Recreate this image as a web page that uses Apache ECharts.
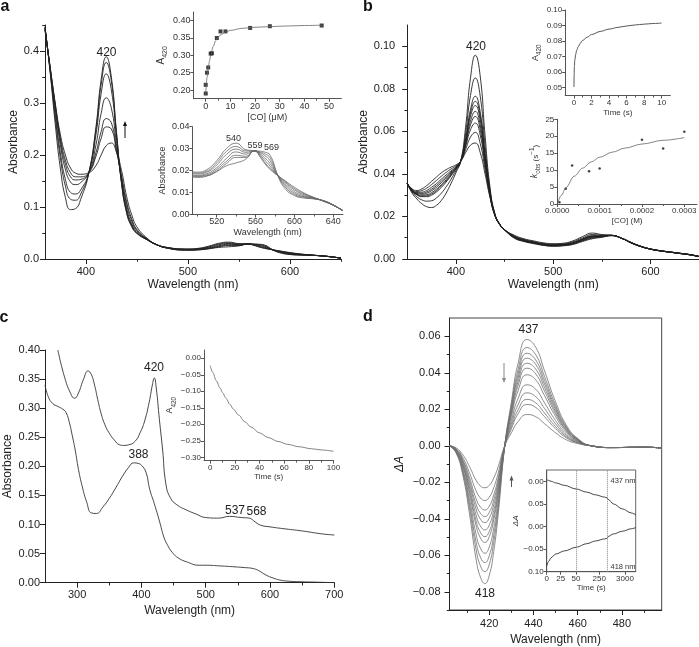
<!DOCTYPE html>
<html>
<head>
<meta charset="utf-8">
<script src="https://cdn.jsdelivr.net/npm/echarts@6/dist/echarts.min.js"></script>
<style>
  html, body { margin: 0; padding: 0; background: #fff; }
  #chart { width: 699px; height: 647px; }
</style>
</head>
<body>
<div id="chart"></div>
<script>
// ---------- panel a: CO titration spectra (7 scans), one row per wavelength ----------
const aWl = [360, 365, 370, 375, 380, 385, 390, 395, 403, 410, 415, 420, 425, 430, 435, 440, 445, 450, 460, 470,
  480, 495, 500, 510, 520, 530, 540, 550, 559, 565, 569, 575, 583, 590, 600, 610, 620, 630, 640, 650];
const aRows = [
  [0.447, 0.446, 0.445, 0.444, 0.443, 0.442, 0.440],
  [0.360, 0.362, 0.364, 0.366, 0.368, 0.369, 0.370],
  [0.260, 0.272, 0.280, 0.290, 0.295, 0.298, 0.300],
  [0.175, 0.195, 0.205, 0.220, 0.228, 0.233, 0.240],
  [0.118, 0.140, 0.153, 0.172, 0.182, 0.190, 0.200],
  [0.095, 0.115, 0.128, 0.148, 0.158, 0.166, 0.175],
  [0.097, 0.113, 0.125, 0.143, 0.152, 0.158, 0.165],
  [0.115, 0.125, 0.133, 0.147, 0.153, 0.158, 0.163],
  [0.166, 0.166, 0.166, 0.166, 0.166, 0.166, 0.166],
  [0.255, 0.250, 0.240, 0.220, 0.205, 0.198, 0.180],
  [0.345, 0.335, 0.318, 0.280, 0.245, 0.232, 0.200],
  [0.389, 0.378, 0.356, 0.310, 0.270, 0.254, 0.218],
  [0.350, 0.342, 0.325, 0.290, 0.262, 0.250, 0.223],
  [0.245, 0.242, 0.235, 0.222, 0.212, 0.208, 0.205],
  [0.145, 0.146, 0.148, 0.152, 0.156, 0.160, 0.170],
  [0.088, 0.090, 0.093, 0.098, 0.105, 0.110, 0.120],
  [0.062, 0.063, 0.065, 0.068, 0.073, 0.077, 0.085],
  [0.049, 0.050, 0.051, 0.053, 0.055, 0.057, 0.062],
  [0.037, 0.037, 0.037, 0.038, 0.038, 0.039, 0.040],
  [0.027, 0.027, 0.027, 0.027, 0.027, 0.027, 0.027],
  [0.022, 0.022, 0.022, 0.021, 0.021, 0.021, 0.021],
  [0.0195, 0.0190, 0.0187, 0.0180, 0.0177, 0.0174, 0.0170],
  [0.0193, 0.0189, 0.0185, 0.0179, 0.0176, 0.0173, 0.0169],
  [0.0205, 0.0198, 0.0193, 0.0186, 0.0181, 0.0177, 0.0175],
  [0.0245, 0.0235, 0.0225, 0.0213, 0.0205, 0.0198, 0.0195],
  [0.0300, 0.0287, 0.0273, 0.0255, 0.0242, 0.0232, 0.0222],
  [0.0325, 0.0310, 0.0298, 0.0285, 0.0270, 0.0260, 0.0235],
  [0.0295, 0.0290, 0.0283, 0.0275, 0.0265, 0.0260, 0.0252],
  [0.0290, 0.0290, 0.0290, 0.0290, 0.0290, 0.0290, 0.0290],
  [0.0260, 0.0265, 0.0270, 0.0275, 0.0280, 0.0284, 0.0288],
  [0.0235, 0.0240, 0.0250, 0.0260, 0.0270, 0.0278, 0.0285],
  [0.0205, 0.0210, 0.0220, 0.0232, 0.0245, 0.0258, 0.0270],
  [0.0177, 0.0177, 0.0177, 0.0177, 0.0177, 0.0177, 0.0177],
  [0.0155, 0.0152, 0.0148, 0.0142, 0.0135, 0.0128, 0.0120],
  [0.0124, 0.0118, 0.0112, 0.0104, 0.0097, 0.0091, 0.0086],
  [0.0098, 0.0094, 0.0090, 0.0085, 0.0081, 0.0078, 0.0075],
  [0.0078, 0.0077, 0.0076, 0.0074, 0.0073, 0.0072, 0.0071],
  [0.0060, 0.0061, 0.0061, 0.0062, 0.0062, 0.0063, 0.0063],
  [0.0042, 0.0042, 0.0042, 0.0043, 0.0043, 0.0043, 0.0044],
  [0.0017, 0.0017, 0.0017, 0.0017, 0.0017, 0.0017, 0.0017]
];
// inset: A420 against [CO]
const aCoPts = [[0, 0.190], [0, 0.215], [0.5, 0.250], [1, 0.265], [2, 0.305], [2.5, 0.306],
  [4.5, 0.350], [6, 0.369], [8, 0.369], [18, 0.379], [26, 0.384], [47, 0.386]];
const aFitCo = [0, 0.5, 1, 1.5, 2, 3, 4, 5, 6, 8, 10, 15, 20, 30, 40, 47];
const aFitA = [0.190, 0.235, 0.262, 0.283, 0.300, 0.325, 0.342, 0.352, 0.359, 0.367, 0.372, 0.378, 0.381, 0.384, 0.386, 0.387];

// ---------- panel b: 10 spectra, one row per wavelength ----------
const bWl = [350, 355, 360, 365, 370, 375, 380, 385, 390, 395, 400, 405, 410, 415, 420, 425, 430, 435, 440, 445, 450,
  460, 470, 480, 490, 500, 510, 520, 530, 540, 550, 560, 570, 580, 590, 600, 610, 620, 630, 640, 650];
const bRows = [
  [.0355, .0355, .0355, .0355, .0355, .0355, .0355, .0355, .0355, .0355],
  [.0310, .0315, .0319, .0320, .0321, .0323, .0324, .0325, .0328, .0330],
  [.0282, .0292, .0301, .0303, .0305, .0308, .0310, .0313, .0317, .0322],
  [.0260, .0278, .0293, .0296, .0300, .0305, .0309, .0314, .0322, .0330],
  [.0246, .0272, .0293, .0297, .0302, .0309, .0315, .0322, .0333, .0345],
  [.0242, .0274, .0300, .0306, .0312, .0321, .0328, .0337, .0350, .0365],
  [.0252, .0287, .0315, .0321, .0328, .0337, .0345, .0354, .0369, .0385],
  [.0275, .0309, .0336, .0343, .0349, .0358, .0366, .0375, .0389, .0405],
  [.0310, .0339, .0362, .0367, .0373, .0380, .0387, .0395, .0407, .0420],
  [.0355, .0375, .0391, .0395, .0399, .0404, .0409, .0414, .0423, .0432],
  [.0405, .0415, .0422, .0424, .0426, .0429, .0431, .0433, .0438, .0442],
  [.0460, .0460, .0460, .0460, .0460, .0460, .0460, .0460, .0460, .0460],
  [.0620, .0589, .0564, .0558, .0552, .0543, .0536, .0528, .0514, .0500],
  [.0850, .0768, .0702, .0686, .0670, .0648, .0630, .0607, .0573, .0535],
  [.0958, .0851, .0765, .0741, .0721, .0694, .0670, .0639, .0595, .0545],
  [.0860, .0766, .0691, .0673, .0655, .0630, .0608, .0583, .0543, .0500],
  [.0580, .0533, .0495, .0486, .0477, .0465, .0454, .0441, .0422, .0400],
  [.0340, .0327, .0317, .0314, .0312, .0308, .0305, .0302, .0296, .0290],
  [.0215, .0212, .0210, .0210, .0209, .0209, .0208, .0207, .0206, .0205],
  [.0165, .0164, .0164, .0163, .0163, .0163, .0163, .0163, .0162, .0162],
  [.0138, .0138, .0138, .0138, .0138, .0137, .0137, .0137, .0137, .0137],
  [.0112, .0108, .0105, .0105, .0104, .0103, .0102, .0101, .0100, .0098],
  [.0095, .0092, .0089, .0088, .0088, .0087, .0086, .0085, .0084, .0082],
  [.0085, .0082, .0079, .0078, .0078, .0077, .0076, .0075, .0074, .0072],
  [.0076, .0073, .0070, .0070, .0069, .0068, .0068, .0067, .0065, .0064],
  [.0072, .0069, .0066, .0066, .0065, .0064, .0064, .0063, .0061, .0060],
  [.0074, .0071, .0068, .0068, .0067, .0066, .0066, .0065, .0063, .0062],
  [.0085, .0081, .0077, .0076, .0075, .0074, .0073, .0072, .0070, .0068],
  [.0105, .0099, .0094, .0093, .0092, .0090, .0089, .0087, .0085, .0082],
  [.0122, .0115, .0109, .0108, .0107, .0105, .0103, .0101, .0098, .0095],
  [.0115, .0112, .0109, .0108, .0108, .0107, .0106, .0105, .0104, .0102],
  [.0112, .0111, .0111, .0111, .0111, .0111, .0111, .0110, .0110, .0110],
  [.0098, .0098, .0098, .0098, .0098, .0098, .0098, .0098, .0098, .0098],
  [.0075, .0076, .0076, .0077, .0077, .0077, .0077, .0077, .0078, .0078],
  [.0058, .0059, .0059, .0059, .0059, .0059, .0059, .0060, .0060, .0060],
  [.0046, .0046, .0046, .0046, .0047, .0047, .0047, .0047, .0047, .0047],
  [.0038, .0038, .0038, .0038, .0038, .0039, .0039, .0039, .0039, .0039],
  [.0032, .0032, .0032, .0032, .0032, .0033, .0033, .0033, .0033, .0033],
  [.0026, .0026, .0026, .0026, .0026, .0027, .0027, .0027, .0027, .0027],
  [.0020, .0020, .0020, .0020, .0020, .0021, .0021, .0021, .0021, .0021],
  [.0011, .0011, .0011, .0011, .0011, .0012, .0012, .0012, .0012, .0012]
];
// inset: A420 vs time
const bTime = [0, 0.02, 0.05, 0.1, 0.2, 0.3, 0.5, 0.7, 1, 1.5, 2, 3, 4, 5, 6, 7, 8, 9, 10];
const bA420 = [0.0505, 0.058, 0.064, 0.068, 0.0715, 0.074, 0.0765, 0.0785, 0.0805, 0.0825, 0.0842,
  0.0862, 0.0877, 0.0888, 0.0897, 0.0904, 0.0909, 0.0913, 0.0916];
// inset: kobs vs [CO]
const bKobsPts = [[0.000005, 0.5], [0.00002, 4.5], [0.000035, 11.4], [0.000075, 9.7], [0.0001, 10.5],
  [0.0002, 19.0], [0.00025, 16.4], [0.0003, 21.3]];
const bFitCo = [0, 0.00001, 0.00002, 0.00004, 0.00006, 0.00008, 0.0001, 0.00013, 0.00016, 0.0002, 0.00025, 0.0003];
const bFitK = [0, 2.6, 4.8, 8.2, 10.6, 12.4, 13.8, 15.3, 16.5, 17.7, 18.8, 19.6];

// ---------- panel c ----------
const cUpWl = [270, 280, 290, 296, 302, 310, 317, 322, 327, 332, 337, 343, 350, 358, 366, 372, 380, 390, 398, 405,
  412, 417, 420, 423, 428, 433, 438, 445, 455, 470, 485, 500, 520, 537, 555, 568, 575, 585, 600, 620, 650, 680, 700];
const cUpAbs = [0.400, 0.355, 0.325, 0.317, 0.326, 0.350, 0.364, 0.358, 0.340, 0.315, 0.292, 0.272, 0.257, 0.245,
  0.237, 0.236, 0.237, 0.243, 0.258, 0.278, 0.310, 0.340, 0.352, 0.335, 0.280, 0.228, 0.170, 0.146, 0.134, 0.125,
  0.118, 0.112, 0.111, 0.114, 0.112, 0.111, 0.106, 0.099, 0.096, 0.093, 0.089, 0.084, 0.082];
const cLowWl = [250, 255, 262, 270, 278, 283, 288, 292, 297, 302, 308, 315, 322, 330, 340, 350, 360, 370, 380, 388,
  395, 400, 407, 413, 420, 428, 435, 440, 448, 458, 470, 490, 500, 520, 542, 560, 573, 582, 594, 605, 615, 630, 646, 670, 700];
const cLowAbs = [0.340, 0.320, 0.308, 0.303, 0.298, 0.292, 0.275, 0.255, 0.228, 0.195, 0.165, 0.138, 0.120, 0.119,
  0.130, 0.145, 0.163, 0.182, 0.198, 0.206, 0.205, 0.202, 0.190, 0.160, 0.136, 0.106, 0.078, 0.066, 0.052, 0.042,
  0.036, 0.030, 0.030, 0.029, 0.0275, 0.026, 0.0245, 0.021, 0.013, 0.008, 0.0046, 0.0025, 0.0017, 0.001, 0];
// inset: A420 vs time
const cTime = [0, 2, 5, 8, 10, 13, 16, 19, 23, 28, 33, 40, 47, 55, 63, 72, 82, 91, 100];
const cA420 = [-0.022, -0.042, -0.068, -0.090, -0.104, -0.122, -0.140, -0.155, -0.172, -0.192, -0.208, -0.226,
  -0.240, -0.252, -0.261, -0.268, -0.274, -0.278, -0.282];

// ---------- panel d: difference spectra (12 scans) ----------
const dWl = [402, 405, 408, 411, 414, 416, 418, 420, 422, 424, 427, 430, 433, 437, 441, 445, 450, 455, 460, 466, 475, 490, 498];
const dCurves = [
  [0, -0.004, -0.016, -0.037, -0.062, -0.072, -0.0755, -0.071, -0.058, -0.038, 0, 0.024, 0.045, 0.0582, 0.054, 0.041, 0.024, 0.011, 0.004, 0, -0.001, -0.0008, -0.0012],
  [0, -0.0037, -0.0146, -0.0338, -0.0567, -0.0658, -0.069, -0.0649, -0.053, -0.0347, 0, 0.0222, 0.0416, 0.0538, 0.0499, 0.0379, 0.0222, 0.0102, 0.0037, 0, -0.001, -0.0008, -0.0012],
  [0, -0.0034, -0.0136, -0.0314, -0.0526, -0.0611, -0.064, -0.0602, -0.0492, -0.0322, 0, 0.0209, 0.0392, 0.0507, 0.047, 0.0357, 0.0209, 0.0096, 0.0035, 0, -0.001, -0.0008, -0.0012],
  [0, -0.0031, -0.0125, -0.0289, -0.0484, -0.0562, -0.0589, -0.0554, -0.0452, -0.0296, 0, 0.0198, 0.0371, 0.048, 0.0446, 0.0338, 0.0198, 0.0091, 0.0033, 0, -0.001, -0.0008, -0.0012],
  [0, -0.0028, -0.0112, -0.026, -0.0435, -0.0505, -0.053, -0.0498, -0.0407, -0.0267, 0, 0.0186, 0.035, 0.0452, 0.042, 0.0319, 0.0186, 0.0085, 0.0031, 0, -0.001, -0.0008, -0.0012],
  [0, -0.0026, -0.0106, -0.0244, -0.0409, -0.0475, -0.0498, -0.0469, -0.0383, -0.0251, 0, 0.0175, 0.0329, 0.0425, 0.0394, 0.0299, 0.0175, 0.008, 0.0029, 0, -0.001, -0.0008, -0.0012],
  [0, -0.0024, -0.0098, -0.0226, -0.0379, -0.044, -0.0461, -0.0434, -0.0354, -0.0232, 0, 0.016, 0.0301, 0.0389, 0.0361, 0.0274, 0.016, 0.0073, 0.0027, 0, -0.001, -0.0008, -0.0012],
  [0, -0.0022, -0.0089, -0.0206, -0.0346, -0.0402, -0.0421, -0.0396, -0.0324, -0.0212, 0, 0.0138, 0.0258, 0.0334, 0.031, 0.0235, 0.0138, 0.0063, 0.0023, 0, -0.001, -0.0008, -0.0012],
  [0, -0.0021, -0.0082, -0.019, -0.0319, -0.037, -0.0388, -0.0365, -0.0298, -0.0195, 0, 0.012, 0.0224, 0.029, 0.0269, 0.0204, 0.012, 0.0055, 0.002, 0, -0.001, -0.0008, -0.0012],
  [0, -0.0019, -0.0075, -0.0172, -0.0289, -0.0336, -0.0352, -0.0331, -0.027, -0.0177, 0, 0.0105, 0.0196, 0.0254, 0.0235, 0.0179, 0.0105, 0.0048, 0.0017, 0, -0.001, -0.0008, -0.0012],
  [0, -0.0016, -0.0064, -0.0147, -0.0246, -0.0286, -0.030, -0.0282, -0.023, -0.0151, 0, 0.0093, 0.0175, 0.0226, 0.021, 0.0159, 0.0093, 0.0043, 0.0016, 0, -0.001, -0.0008, -0.0012],
  [0, -0.0012, -0.0049, -0.0113, -0.0189, -0.022, -0.023, -0.0217, -0.0177, -0.0116, 0, 0.0071, 0.0132, 0.0171, 0.0159, 0.0121, 0.0071, 0.0032, 0.0012, 0, -0.001, -0.0008, -0.0012]
];
// inset: broken time axis, positions in axis units (0..100) and stacked dA offsets (0..4.5)
const dInsetTickPos = [0, 15.7, 33, 59, 88];
const dInsetTickText = ['0', '25', '50', '250', '3000'];
const dInsetYText = ['0.10', '\u22120.05', '0.00', '0.05', '0.00'];
const dInsetBreaks = [33, 68.5];
const dInsetT = [0, 2, 5, 10, 20, 33, 45, 55, 65, 68, 69, 75, 85, 95, 100];
const dInset437 = [4.07, 4.04, 4.0, 3.93, 3.82, 3.66, 3.52, 3.4, 3.3, 3.26, 3.2, 3.0, 2.78, 2.6, 2.52];
const dInset418 = [0.25, 0.45, 0.62, 0.78, 0.92, 1.08, 1.24, 1.36, 1.45, 1.48, 1.56, 1.67, 1.79, 1.9, 1.95];

// ---------- helpers ----------
const FONT = '"Liberation Sans", Arial, Helvetica, sans-serif';
const INK = '#222';
const GREY = '#555';

const dec = n => v => (v < 0 ? '\u2212' : '') + Math.abs(v).toFixed(n);
const plain = v => String(v);

const xAxes = [];
const yAxes = [];

// adds the main axis (labels + major ticks) and an optional overlay with short minor ticks
function addAxis(list, kind, g, o) {
  const pos = kind === 'x' ? 'bottom' : 'left';
  const idx = list.length;
  list.push({
    type: 'value', gridIndex: g, position: pos, min: o.min, max: o.max,
    splitLine: { show: false },
    axisLine: { show: true, onZero: false, lineStyle: { color: o.line, width: 1 } },
    axisTick: { show: true, inside: false, length: o.tick, customValues: o.ticks, lineStyle: { color: o.line, width: 1 } },
    axisLabel: { show: true, customValues: o.ticks, formatter: o.fmt, fontSize: o.fs, color: o.text, fontFamily: FONT, margin: o.margin },
    name: o.name, nameLocation: 'middle', nameGap: o.gap, nameRotate: kind === 'y' ? 90 : 0,
    nameTextStyle: Object.assign({ fontSize: o.nfs, color: o.text, fontFamily: FONT }, o.nameStyle || {})
  });
  if (o.minor) {
    list.push({
      type: 'value', gridIndex: g, position: pos, min: o.min, max: o.max,
      splitLine: { show: false }, axisLabel: { show: false },
      axisLine: { show: false, onZero: false },
      axisTick: { show: true, inside: false, length: Math.max(2, o.tick * 0.55), customValues: o.minor, lineStyle: { color: o.line, width: 1 } }
    });
  }
  return idx;
}

const MAIN = { line: INK, text: INK, fs: 11, nfs: 12, tick: 5 };
const INS = { line: GREY, text: '#333', fs: 8, nfs: 8, tick: 3, margin: 3 };

const subRich = size => ({
  rich: {
    a: { fontSize: size, fontFamily: FONT, color: '#333', lineHeight: 12, verticalAlign: 'top' },
    s: { fontSize: size * 0.7, fontFamily: FONT, color: '#333', lineHeight: 6, verticalAlign: 'bottom' },
    i: { fontSize: size, fontFamily: FONT, fontStyle: 'italic', color: '#333', lineHeight: 12, verticalAlign: 'top' },
    p: { fontSize: size * 0.7, fontFamily: FONT, color: '#333', lineHeight: 6, verticalAlign: 'top' }
  }
});

// spectra: plain spline; kinetic traces with steep starts keep x-monotone smoothing
function line(xi, yi, data, color, width, monotone) {
  const s = {
    type: 'line', xAxisIndex: xi, yAxisIndex: yi, data: data, symbol: 'none',
    smooth: monotone ? 0.35 : 0.5, clip: true, silent: true,
    lineStyle: { color: color, width: width }
  };
  if (monotone) s.smoothMonotone = 'x';
  return s;
}
const zip = (xs, ys) => xs.map((x, i) => [x, ys[i]]);

function spectraFromRows(wl, rows, xi, yi, color, width) {
  const out = [];
  for (let k = 0; k < rows[0].length; k++) {
    out.push(line(xi, yi, wl.map((w, i) => [w, rows[i][k]]), color, width));
  }
  return out;
}

// ---------- grids ----------
const grids = [
  { left: 45, top: 25, width: 296, height: 234 },            // 0 a
  { left: 193.4, top: 12, width: 148, height: 86.7 },        // 1 a inset A420 vs CO
  { left: 192.4, top: 126.7, width: 150.6, height: 87.8 },   // 2 a inset Q bands
  { left: 407.2, top: 25, width: 292, height: 234 },         // 3 b
  { left: 565.2, top: 10, width: 105.2, height: 85.5 },      // 4 b inset time
  { left: 557.3, top: 119.3, width: 139.7, height: 84.7 },   // 5 b inset kobs
  { left: 45, top: 350, width: 289.3, height: 232.7 },       // 6 c
  { left: 204, top: 350, width: 129.5, height: 110.6 },      // 7 c inset
  { left: 449.5, top: 318, width: 212.2, height: 292, show: true, borderColor: '#444', borderWidth: 1 }, // 8 d
  { left: 546.7, top: 470, width: 89, height: 101.7, show: true, borderColor: '#666', borderWidth: 1 }  // 9 d inset
].map(g => Object.assign({ outerBoundsMode: 'none', containLabel: false }, g));

// ---------- axes ----------
const ax = {};
ax.ax = addAxis(xAxes, 'x', 0, Object.assign({}, MAIN, { min: 360, max: 650, ticks: [400, 500, 600], minor: [450, 550, 650], fmt: plain, margin: 7, name: 'Wavelength (nm)', gap: 20 }));
ax.ay = addAxis(yAxes, 'y', 0, Object.assign({}, MAIN, { min: 0, max: 0.45, ticks: [0, 0.1, 0.2, 0.3, 0.4], minor: [0.05, 0.15, 0.25, 0.35, 0.45], fmt: dec(1), margin: 6, name: 'Absorbance', gap: 24 }));

ax.a1x = addAxis(xAxes, 'x', 1, Object.assign({}, INS, { fs: 9, nfs: 9, min: -5, max: 55, ticks: [0, 10, 20, 30, 40, 50], minor: [5, 15, 25, 35, 45], fmt: plain, name: '[CO] (\u03bcM)', gap: 14 }));
ax.a1y = addAxis(yAxes, 'y', 1, Object.assign({}, INS, { fs: 9, nfs: 9, min: 0.175, max: 0.425, ticks: [0.2, 0.25, 0.3, 0.35, 0.4], fmt: dec(2), name: '{a|A}{s|420}', gap: 25, nameStyle: subRich(10) }));

ax.a2x = addAxis(xAxes, 'x', 2, Object.assign({}, INS, { fs: 9, nfs: 9, min: 495, max: 650, ticks: [520, 560, 600, 640], minor: [500, 540, 580, 620], fmt: plain, name: 'Wavelength (nm)', gap: 14 }));
ax.a2y = addAxis(yAxes, 'y', 2, Object.assign({}, INS, { fs: 9, nfs: 9, min: 0, max: 0.04, ticks: [0, 0.01, 0.02, 0.03, 0.04], fmt: dec(2), name: 'Absorbance', gap: 25 }));

ax.bx = addAxis(xAxes, 'x', 3, Object.assign({}, MAIN, { min: 350, max: 650, ticks: [400, 500, 600], minor: [450, 550], fmt: plain, margin: 7, name: 'Wavelength (nm)', gap: 20 }));
ax.by = addAxis(yAxes, 'y', 3, Object.assign({}, MAIN, { min: 0, max: 0.11, ticks: [0, 0.02, 0.04, 0.06, 0.08, 0.10], minor: [0.01, 0.03, 0.05, 0.07, 0.09], fmt: dec(2), margin: 12, name: 'Absorbance', gap: 33 }));

ax.b1x = addAxis(xAxes, 'x', 4, Object.assign({}, INS, { min: -1, max: 11, ticks: [0, 2, 4, 6, 8, 10], minor: [1, 3, 5, 7, 9], fmt: plain, name: 'Time (s)', gap: 13 }));
ax.b1y = addAxis(yAxes, 'y', 4, Object.assign({}, INS, { min: 0.045, max: 0.10, ticks: [0.05, 0.06, 0.07, 0.08, 0.09, 0.10], fmt: dec(2), name: '{a|A}{s|420}', gap: 22, nameStyle: subRich(9) }));

ax.b2x = addAxis(xAxes, 'x', 5, Object.assign({}, INS, { min: 0, max: 0.00033, ticks: [0, 0.0001, 0.0002, 0.0003], minor: [0.00005, 0.00015, 0.00025], fmt: dec(4), name: '[CO] (M)', gap: 13 }));
ax.b2y = addAxis(yAxes, 'y', 5, Object.assign({}, INS, { min: 0, max: 25, ticks: [0, 5, 10, 15, 20, 25], fmt: plain, name: '{i|k}{s|obs} (s{p|\u22121})', gap: 10, nameStyle: subRich(9) }));

ax.cx = addAxis(xAxes, 'x', 6, Object.assign({}, MAIN, { min: 250, max: 700, ticks: [300, 400, 500, 600, 700], minor: [350, 450, 550, 650], fmt: plain, margin: 7, name: 'Wavelength (nm)', gap: 22 }));
ax.cy = addAxis(yAxes, 'y', 6, Object.assign({}, MAIN, { min: 0, max: 0.40, ticks: [0, 0.05, 0.1, 0.15, 0.2, 0.25, 0.3, 0.35, 0.4], fmt: dec(2), margin: 5, name: 'Absorbance', gap: 31 }));

ax.c1x = addAxis(xAxes, 'x', 7, Object.assign({}, INS, { min: -5, max: 100, ticks: [0, 20, 40, 60, 80, 100], minor: [10, 30, 50, 70, 90], fmt: plain, name: 'Time (s)', gap: 12 }));
ax.c1y = addAxis(yAxes, 'y', 7, Object.assign({}, INS, { min: -0.31, max: 0.025, ticks: [0, -0.05, -0.1, -0.15, -0.2, -0.25, -0.3], fmt: dec(2), name: '{a|A}{s|420}', gap: 25, nameStyle: subRich(9) }));

ax.dx = addAxis(xAxes, 'x', 8, Object.assign({}, MAIN, { min: 402, max: 498, ticks: [420, 440, 460, 480], minor: [410, 430, 450, 470, 490], fmt: plain, margin: 8, name: 'Wavelength (nm)', gap: 24 }));
ax.dy = addAxis(yAxes, 'y', 8, Object.assign({}, MAIN, { min: -0.09, max: 0.07, ticks: [-0.08, -0.06, -0.04, -0.02, 0, 0.02, 0.04, 0.06], minor: [-0.09, -0.07, -0.05, -0.03, -0.01, 0.01, 0.03, 0.05], fmt: dec(2), margin: 9, name: '\u0394A', gap: 44, nameStyle: { fontStyle: 'italic' } }));

ax.d1x = addAxis(xAxes, 'x', 9, Object.assign({}, INS, { min: 0, max: 100, ticks: dInsetTickPos, fmt: v => dInsetTickText[dInsetTickPos.indexOf(v)], name: 'Time (s)', gap: 12 }));
ax.d1y = addAxis(yAxes, 'y', 9, Object.assign({}, INS, { min: 0, max: 4.5, ticks: [0, 1, 2, 3, 4], fmt: v => dInsetYText[v], name: '\u0394A', gap: 26, nameStyle: { fontStyle: 'italic' } }));

// ---------- series ----------
let series = [];
series = series.concat(spectraFromRows(aWl, aRows, ax.ax, ax.ay, INK, 0.9));
series = series.concat(spectraFromRows(aWl, aRows, ax.a2x, ax.a2y, '#6a6a6a', 0.8));
series.push(line(ax.a1x, ax.a1y, zip(aFitCo, aFitA), '#666', 0.8, true));
series.push({ type: 'scatter', xAxisIndex: ax.a1x, yAxisIndex: ax.a1y, data: aCoPts, symbol: 'rect', symbolSize: 4, itemStyle: { color: '#111' }, silent: true });

series = series.concat(spectraFromRows(bWl, bRows, ax.bx, ax.by, INK, 0.9));
series.push(line(ax.b1x, ax.b1y, zip(bTime, bA420), '#444', 0.9, true));
series.push(line(ax.b2x, ax.b2y, zip(bFitCo, bFitK), '#666', 0.8, true));
series.push({ type: 'scatter', xAxisIndex: ax.b2x, yAxisIndex: ax.b2y, data: bKobsPts, symbol: 'circle', symbolSize: 2.5, itemStyle: { color: '#111' }, silent: true });

series.push(line(ax.cx, ax.cy, zip(cUpWl, cUpAbs), '#333', 0.9));
series.push(line(ax.cx, ax.cy, zip(cLowWl, cLowAbs), '#333', 0.9));
series.push(line(ax.c1x, ax.c1y, zip(cTime, cA420), '#777', 0.9, true));

dCurves.forEach(c => series.push(line(ax.dx, ax.dy, zip(dWl, c), '#707070', 0.8)));
const d437 = line(ax.d1x, ax.d1y, zip(dInsetT, dInset437), '#333', 0.9, true);
d437.markLine = {
  silent: true, symbol: 'none', label: { show: false }, animation: false,
  lineStyle: { type: 'dotted', color: '#888', width: 1 },
  data: dInsetBreaks.map(v => ({ xAxis: v }))
};
series.push(d437);
series.push(line(ax.d1x, ax.d1y, zip(dInsetT, dInset418), '#333', 0.9, true));

// ---------- annotations ----------
function txt(x, y, s, size, extra) {
  return {
    type: 'text', x: x, y: y, silent: true, z: 100,
    style: Object.assign({
      text: s, font: size + 'px ' + FONT, fill: INK,
      align: 'center', verticalAlign: 'middle', textAlign: 'center', textVerticalAlign: 'middle'
    }, extra || {})
  };
}
function arrow(x, yTail, yHead, color) {
  const d = yHead < yTail ? -1 : 1;
  return {
    type: 'group', silent: true, z: 100, children: [
      { type: 'line', shape: { x1: x, y1: yTail, x2: x, y2: yHead - d * 3 }, style: { stroke: color, lineWidth: 1 } },
      { type: 'polygon', shape: { points: [[x - 2, yHead - d * 5], [x + 2, yHead - d * 5], [x, yHead]] }, style: { fill: color } }
    ]
  };
}
const bold = { font: 'bold 16px ' + FONT, fill: '#111' };
const graphic = [
  txt(5, 7, 'a', 16, bold), txt(368, 7, 'b', 16, bold), txt(4, 318, 'c', 16, bold), txt(368, 317, 'd', 16, bold),
  txt(106.5, 52.5, '420', 12), arrow(125, 138, 121, '#111'),
  txt(233.5, 138.5, '540', 9, { fill: '#333' }), txt(255, 145.5, '559', 9, { fill: '#333' }), txt(271.5, 147.5, '569', 9, { fill: '#333' }),
  txt(476, 46.5, '420', 12),
  txt(154, 368, '420', 12), txt(138.5, 454.5, '388', 12), txt(235, 510.5, '537', 12), txt(256.5, 511.5, '568', 12),
  txt(528.5, 330, '437', 12), txt(485, 594, '418', 12),
  arrow(504, 363, 383, '#888'), arrow(511.5, 487, 475.5, '#555'),
  txt(623, 481, '437 nm', 7.5, { fill: '#333' }), txt(623, 567, '418 nm', 7.5, { fill: '#333' })
];

const chart = echarts.init(document.getElementById('chart'), null, { renderer: 'canvas' });
chart.setOption({
  animation: false,
  backgroundColor: '#fff',
  textStyle: { fontFamily: FONT },
  grid: grids,
  xAxis: xAxes,
  yAxis: yAxes,
  series: series,
  graphic: graphic
});
</script>
</body>
</html>
